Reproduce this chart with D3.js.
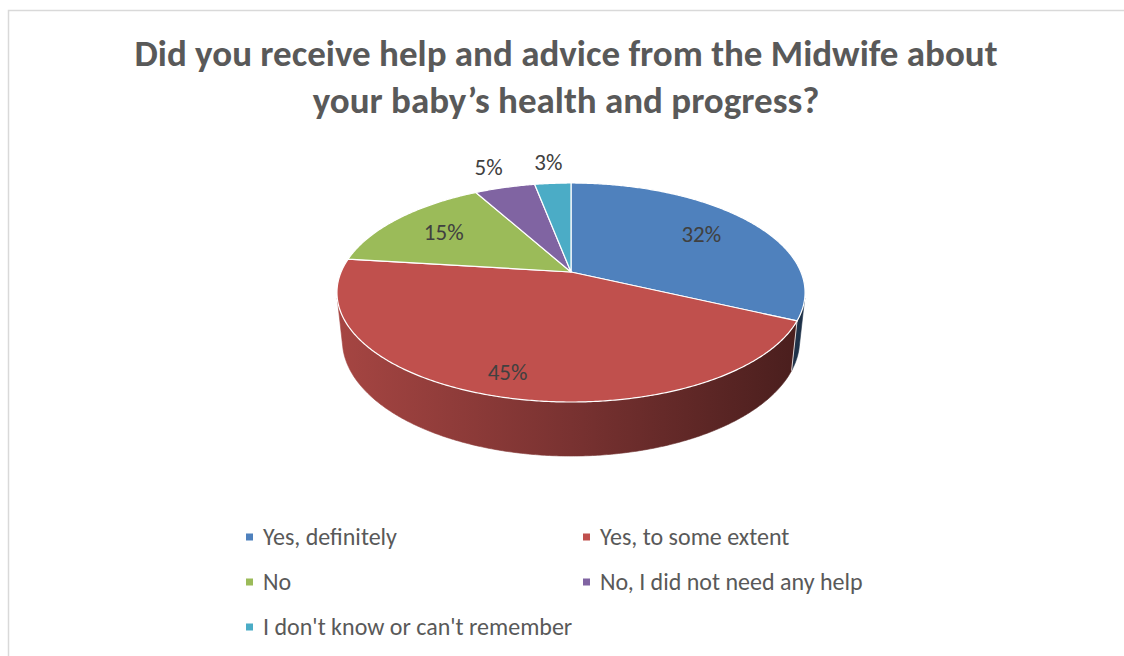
<!DOCTYPE html>
<html>
<head>
<meta charset="utf-8">
<script src="https://cdn.jsdelivr.net/npm/d3@7"></script>
<style>
  html, body { margin: 0; padding: 0; background: #fff; }
  svg { display: block; }
  text { font-family: Carlito, Calibri, Lato, sans-serif; }
</style>
</head>
<body>
<svg id="chart" width="1124" height="656"></svg>
<script>
// Survey answers and their shares (%)
const categories = [
  "Yes, definitely",
  "Yes, to some extent",
  "No",
  "No, I did not need any help",
  "I don't know or can't remember"
];
const values = [32, 45, 15, 5, 3];
const colors = ["#4f81bd", "#c0504d", "#9bbb59", "#8064a2", "#4bacc6"];
const titleLines = [
  "Did you receive help and advice from the Midwife about",
  "your baby\u2019s health and progress?"
];
// Label distance from the pie centre, as a fraction of the radius
const labelRadius = [0.72, 0.84, 0.72, 1.3, 1.3];

const W = 1124, H = 656;
const svg = d3.select("#chart");

// Chart frame
svg.append("path")
  .attr("d", `M8.5,${H} L8.5,10.5 L${W},10.5`)
  .attr("fill", "none")
  .attr("stroke", "#d9d9d9")
  .attr("stroke-width", 1.5);

// Title
svg.append("g").selectAll("text")
  .data(titleLines)
  .join("text")
  .attr("x", 566)
  .attr("y", (d, i) => 66 + i * 47)
  .attr("text-anchor", "middle")
  .attr("font-size", 37)
  .attr("font-weight", 700)
  .attr("fill", "#595959")
  .text(d => d);

// --- 3D pie with a simple perspective camera ---
const cam = {
  cx: 571, cy: 272,        // screen position of the pie centre
  D: 1, R: 0.2109,         // camera distance, disc radius
  depth: 0.0497,           // disc thickness
  sinE: 0.4596, cosE: 0.8881,
  F: 1090.1
};
function project(a, r, h) {
  const X = r * cam.R * Math.sin(a);
  const Z = -r * cam.R * Math.cos(a);
  const v = -Z * cam.sinE + h * cam.cosE;
  const q = cam.D - Z * cam.cosE - h * cam.sinE;
  return [cam.cx + cam.F * X / q, cam.cy - cam.F * v / q];
}
function arcPoints(a0, a1, r, h) {
  const n = Math.max(2, Math.ceil(Math.abs(a1 - a0) / (Math.PI / 360)));
  const pts = [];
  for (let i = 0; i <= n; i++) pts.push(project(a0 + (a1 - a0) * i / n, r, h));
  return pts;
}
const line = d3.line();

const color = d3.scaleOrdinal().domain(categories).range(colors);
const pie = d3.pie().sort(null).value(d => d.value);
const arcs = pie(categories.map((c, i) => ({ name: c, value: values[i] })));

// Visible part of the outer wall (front arc facing the camera)
const limit = Math.acos(-cam.R / (cam.D * cam.cosE));
const visA = limit, visB = 2 * Math.PI - limit;

const defs = svg.append("defs");
const leftX = project(-Math.PI / 2, 1, 0)[0];
const rightX = project(Math.PI / 2, 1, 0)[0];
arcs.forEach((d, i) => {
  const base = d3.rgb(color(d.data.name));
  const g = defs.append("linearGradient")
    .attr("id", "side" + i)
    .attr("gradientUnits", "userSpaceOnUse")
    .attr("x1", leftX).attr("x2", rightX)
    .attr("y1", 0).attr("y2", 0);
  [[0, 0.86], [0.5, 0.63], [1, 0.38]].forEach(([o, k]) => {
    g.append("stop").attr("offset", o)
      .attr("stop-color", d3.rgb(base.r * k, base.g * k, base.b * k).formatHex());
  });
});

const sides = svg.append("g");
arcs.forEach((d, i) => {
  const a0 = Math.max(d.startAngle, visA), a1 = Math.min(d.endAngle, visB);
  if (a1 <= a0) return;
  const top = arcPoints(a0, a1, 1, 0);
  const bot = arcPoints(a1, a0, 1, -cam.depth);
  sides.append("path")
    .attr("d", line(top.concat(bot)) + "Z")
    .attr("fill", `url(#side${i})`)
    .attr("stroke", `url(#side${i})`)
    .attr("stroke-width", 0.6);
});
// Seams between slices on the wall
arcs.forEach(d => {
  const a = d.startAngle;
  if (a > visA && a < visB) {
    sides.append("path")
      .attr("d", line([project(a, 1, 0), project(a, 1, -cam.depth)]))
      .attr("stroke", "#ffffff").attr("stroke-opacity", 0.8)
      .attr("stroke-width", 1);
  }
});

// Top faces
svg.append("g").selectAll("path")
  .data(arcs)
  .join("path")
  .attr("d", d => line([project(0, 0, 0)].concat(arcPoints(d.startAngle, d.endAngle, 1, 0))) + "Z")
  .attr("fill", d => color(d.data.name))
  .attr("stroke", "#ffffff")
  .attr("stroke-width", 1.2)
  .attr("stroke-linejoin", "round");

// Percentage labels
svg.append("g").selectAll("text")
  .data(arcs)
  .join("text")
  .attr("transform", (d, i) => {
    const p = project((d.startAngle + d.endAngle) / 2, labelRadius[i], 0);
    return `translate(${p[0]},${p[1]})`;
  })
  .attr("text-anchor", "middle")
  .attr("dy", "0.35em")
  .attr("font-size", 23)
  .attr("fill", "#404040")
  .text(d => d.data.value + "%");

// Legend
const legend = svg.append("g").selectAll("g")
  .data(categories)
  .join("g")
  .attr("transform", (d, i) => `translate(${246 + (i % 2) * 337},${537 + Math.floor(i / 2) * 45})`);
legend.append("rect")
  .attr("x", 0).attr("y", -3.5)
  .attr("width", 7).attr("height", 7)
  .attr("fill", d => color(d));
legend.append("text")
  .attr("x", 17)
  .attr("dy", "0.35em")
  .attr("font-size", 24)
  .attr("fill", "#595959")
  .text(d => d);
</script>
</body>
</html>
